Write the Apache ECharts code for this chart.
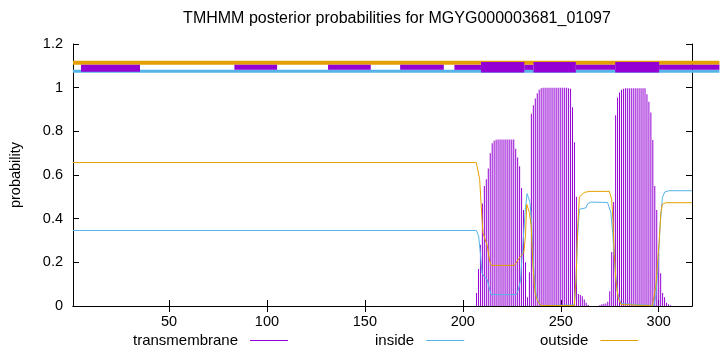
<!DOCTYPE html>
<html>
<head>
<meta charset="utf-8">
<script src="https://cdn.jsdelivr.net/npm/echarts@6/dist/echarts.min.js"></script>
<style>
html, body { margin: 0; padding: 0; background: #fff; }
#chart { width: 720px; height: 352px; }
</style>
</head>
<body>
<div id="chart"></div>
<script>
// sequence range and ticks
const seqStart = 1;
const seqEnd = 317;
const xTicks = [50, 100, 150, 200, 250, 300];

// transmembrane posterior, one value per residue starting at tmStart
const tmStart = 207;
const tmValues = [
  0.06, 0.17, 0.28, 0.47, 0.55, 0.58, 0.63, 0.70, 0.745, 0.757,      // 207-216
  0.762, 0.763, 0.763, 0.763, 0.763, 0.763, 0.763, 0.763, 0.763, 0.763, // 217-226
  0.72, 0.68, 0.64, 0.54, 0.44, 0.20, 0.04, 0.155, 0.88, 0.92,        // 227-236
  0.95, 0.975, 0.99, 0.997, 1.0, 1.0, 1.0, 1.0, 1.0, 1.0,             // 237-246
  1.0, 1.0, 1.0, 1.0, 1.0, 1.0, 1.0, 0.997, 0.995, 0.91,              // 247-256
  0.75, 0.50, 0.055, 0.05, 0.045, 0.03, 0.015, 0.005, 0, 0,           // 257-266
  0, 0, 0, 0.005, 0.008, 0.01, 0.012, 0.02, 0.068, 0.247,             // 267-276
  0.476, 0.874, 0.955, 0.978, 0.99, 0.995, 0.997, 0.997, 0.997, 0.997, // 277-286
  0.997, 0.997, 0.997, 0.997, 0.997, 0.997, 0.997, 0.97, 0.935, 0.886, // 287-296
  0.76, 0.55, 0.44, 0.24, 0.15, 0.06, 0.04, 0.015, 0.008, 0.004       // 297-306
];

// inside / outside curves as [residue, probability] breakpoints
const insideLine = [
  [1, 0.346], [206.9, 0.346], [208.1, 0.32], [209.1, 0.228], [209.8, 0.151],
  [210.8, 0.136], [212.5, 0.12], [213.7, 0.075], [214.5, 0.052], [227.2, 0.052],
  [228.1, 0.067], [229.4, 0.113], [230.6, 0.275], [231.8, 0.428], [232.8, 0.515],
  [233.6, 0.512], [234.3, 0.474], [235.1, 0.382], [236.1, 0.183], [237.3, 0.06],
  [238.5, 0.022], [239.9, 0.002], [256.9, 0.005], [257.8, 0.12], [258.6, 0.32],
  [259.5, 0.443], [260.2, 0.45], [262.9, 0.45], [263.7, 0.468], [265.4, 0.476],
  [273.9, 0.474], [275.6, 0.428], [276.5, 0.336], [277.6, 0.183], [279.0, 0.06],
  [280.7, 0.011], [281.5, 0.002], [297.5, 0.002], [298.5, 0.045], [299.7, 0.183],
  [300.7, 0.367], [301.9, 0.497], [303.1, 0.522], [305.3, 0.528], [317, 0.528]
];
const outsideLine = [
  [1, 0.657], [206.9, 0.657], [208.6, 0.58], [209.8, 0.397], [210.3, 0.336],
  [211.1, 0.313], [212.5, 0.275], [213.7, 0.206], [214.5, 0.186], [226.4, 0.186],
  [227.8, 0.206], [229.4, 0.228], [231.1, 0.243], [232.0, 0.32], [232.6, 0.466],
  [233.2, 0.46], [234.0, 0.428], [234.9, 0.367], [235.8, 0.18], [236.9, 0.06],
  [238.2, 0.022], [239.9, 0.002], [256.9, 0.002], [257.8, 0.12], [258.6, 0.35],
  [259.5, 0.5], [260.3, 0.507], [262.0, 0.52], [264.6, 0.525], [274.8, 0.525],
  [276.0, 0.489], [276.6, 0.397], [277.3, 0.243], [278.1, 0.12], [279.3, 0.037],
  [280.7, 0.007], [281.5, 0.001], [296.8, 0.001], [298.5, 0.09], [300.2, 0.29],
  [301.1, 0.428], [301.9, 0.466], [303.6, 0.473], [317, 0.473]
];

// predicted topology strip above the plot, [from, to] in residues
const outsideStrip = [[1, 331]];
const insideStrip = [[1, 331]];
const tmStripA = [[5.1, 35.2]];
const tmStripThin = [[83.4, 105.2], [131.2, 153.0], [168.0, 190.3], [195.7, 209.3],
  [231.4, 236.1], [257.7, 277.8], [300.2, 331]];
const tmStripThick = [[209.3, 231.4], [236.1, 257.7], [277.8, 300.2]];

const cTM = '#9400d3', cIn = '#56b4e9', cOut = '#e69f00';
const font = 'Liberation Sans, Arial, sans-serif';

function stripSeries(segs, level, px, color) {
  return {
    type: 'custom',
    clip: false,
    silent: true,
    xAxisIndex: 0, yAxisIndex: 0,
    data: segs,
    z: 5,
    renderItem: function (params, api) {
      const a = api.coord([api.value(0), level]);
      const b = api.coord([api.value(1), level]);
      return {
        type: 'rect',
        shape: { x: a[0], y: a[1] - px / 2, width: b[0] - a[0], height: px },
        style: { fill: color }
      };
    }
  };
}

const tmData = tmValues.map((v, i) => [tmStart + i, v]);

const chart = echarts.init(document.getElementById('chart'));
chart.setOption({
  animation: false,
  textStyle: { fontFamily: font },
  grid: { left: 73, right: 28, top: 44, bottom: 46 },
  graphic: [{
    type: 'text', x: 397, y: 19,
    style: {
      text: 'TMHMM posterior probabilities for MGYG000003681_01097',
      font: '16px ' + font, fill: '#000', textAlign: 'center', textVerticalAlign: 'middle'
    }
  }],
  legend: [
    { data: ['transmembrane'], left: 133, top: 333 },
    { data: ['inside'], left: 375, top: 333 },
    { data: ['outside'], left: 540, top: 333 }
  ].map(l => Object.assign(l, {
    align: 'right', icon: 'rect', itemWidth: 38, itemHeight: 1, padding: 0,
    selectedMode: false,
    textStyle: { fontSize: 15, color: '#000', fontFamily: font, padding: [0, 7, 0, 0] }
  })),
  xAxis: [{
    type: 'value', min: seqStart, max: seqEnd, position: 'bottom',
    axisLine: { lineStyle: { color: '#000', width: 1 } },
    axisTick: { inside: true, length: 6, customValues: xTicks, lineStyle: { color: '#000' } },
    axisLabel: { customValues: xTicks, color: '#000', fontSize: 14.5, margin: 8 },
    splitLine: { show: false }
  }, {
    type: 'value', min: seqStart, max: seqEnd, position: 'top',
    axisLine: { lineStyle: { color: '#000', width: 1 } },
    axisTick: { inside: true, length: 6, customValues: xTicks, lineStyle: { color: '#000' } },
    axisLabel: { show: false },
    splitLine: { show: false }
  }],
  yAxis: [{
    type: 'value', min: 0, max: 1.2, interval: 0.2,
    name: 'probability', nameLocation: 'middle', nameGap: 50,
    nameTextStyle: { fontSize: 14.5, color: '#000' },
    axisLine: { show: true, lineStyle: { color: '#000', width: 1 } },
    axisTick: { show: true, inside: true, length: 6, lineStyle: { color: '#000' } },
    axisLabel: { color: '#000', fontSize: 14.5, margin: 10 },
    splitLine: { show: false }
  }, {
    type: 'value', min: 0, max: 1.2, interval: 0.2, position: 'right',
    axisLine: { show: true, lineStyle: { color: '#000', width: 1 } },
    axisTick: { show: true, inside: true, length: 6, lineStyle: { color: '#000' } },
    axisLabel: { show: false },
    splitLine: { show: false }
  }],
  series: [
    {
      name: 'transmembrane', type: 'bar', data: tmData, barWidth: 1,
      itemStyle: { color: cTM }, z: 2
    },
    {
      name: 'inside', type: 'line', data: insideLine, showSymbol: false,
      lineStyle: { color: cIn, width: 1 }, itemStyle: { color: cIn }, z: 3
    },
    {
      name: 'outside', type: 'line', data: outsideLine, showSymbol: false,
      lineStyle: { color: cOut, width: 1 }, itemStyle: { color: cOut }, z: 4
    },
    stripSeries(outsideStrip, 1.114, 4, cOut),
    stripSeries(insideStrip, 1.075, 3, cIn),
    stripSeries(tmStripA, 1.089, 7, cTM),
    stripSeries(tmStripThin, 1.093, 5, cTM),
    stripSeries(tmStripThick, 1.094, 10.5, cTM)
  ]
});
</script>
</body>
</html>
